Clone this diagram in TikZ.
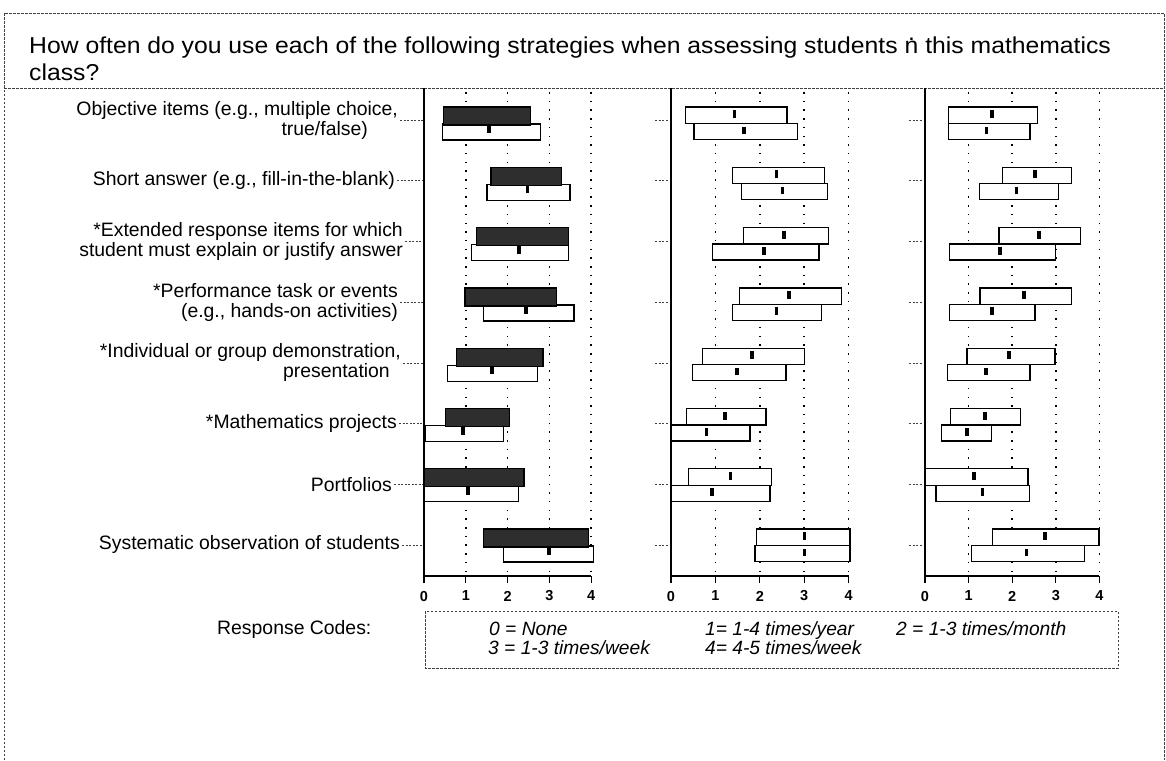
\documentclass[tikz,border=0pt]{standalone}
\usepackage{fontspec}
\setmainfont{Liberation Sans}
\usetikzlibrary{calc}
\tikzset{>=latex}
\newcommand{\idotn}{\ooalign{n\cr\hidewidth\raisebox{0.6em}{.}\hidewidth\cr}}

\begin{document}
\begin{tikzpicture}[x=1pt,y=-1pt,
	frame/.style={dash pattern=on 2.5pt off 1.5pt,line width=0.7pt,black!75},
	leader/.style={dash pattern=on 2pt off 1.5pt,line width=0.6pt,black!75},
	dotgrid/.style={line width=1.5pt,dash pattern=on 1.5pt off 7.2pt},
	axis/.style={line width=1.3pt},
	darkbox/.style={draw=black,line width=1.3pt,fill=black!82},
	openbox/.style={draw=black,line width=1.3pt,fill=white},
	item/.style={font=\fontsize{19.4}{20}\selectfont,align=right,anchor=east,inner sep=0pt},
	ticklab/.style={font=\fontsize{14.5}{15}\selectfont\bfseries,inner sep=0pt},
	code/.style={font=\fontsize{19.2}{19}\selectfont\itshape,anchor=base west,inner sep=0pt}]
			
			\useasboundingbox (0,0) rectangle (1166,760);
			
			\draw[frame] (4,760) -- (4,13) -- (1164,13) -- (1164,760);
			\draw[frame] (4,88) -- (1164,88);
			
			\node[anchor=base west,inner sep=0pt,xscale=1.075,font=\fontsize{23}{27}\selectfont] (title) at (29,54) {How often do you use each of the following strategies when assessing students \idotn{} this mathematics};
			\node[anchor=base west,inner sep=0pt,xscale=1.075,font=\fontsize{23}{27}\selectfont] (title2) at (29,80) {class?};
			
			\coordinate (ax1) at (424,88);
			\coordinate (ax2) at (671,88);
			\coordinate (ax3) at (925,88);
			
			% item labels
			\node[item] (obj) at (398,120) {Objective items (e.g., multiple choice,\\ true/false)\hspace*{30pt}};
			\node[item] (short) at (395,180.7) {Short answer (e.g., fill-in-the-blank)};
			\node[item] (ext) at (403,241.4) {*Extended response items for which\\ student must explain or justify answer};
			\node[item] (perf) at (398,302.1) {*Performance task or events\\ (e.g., hands-on activities)};
			\node[item] (indiv) at (401,362.8) {*Individual or group demonstration,\\ presentation\hspace*{11pt}};
			\node[item] (proj) at (397,423.5) {*Mathematics projects};
			\node[item] (port) at (392,484.2) {Portfolios};
			\node[item] (syst) at (400,544.9) {Systematic observation of students};
			
			\foreach \lab in {obj,short,ext,perf,indiv,proj,port,syst}
				\draw[leader] ([xshift=2pt]\lab.east) -- (\lab.east -| ax1);
			\foreach \ax in {ax2,ax3}
				\foreach \lab in {obj,short,ext,perf,indiv,proj,port,syst}
					\draw[leader] ([xshift=-16pt]\lab.east -| \ax) -- ([xshift=-3pt]\lab.east -| \ax);
			
			% axes and grid
			\foreach \xo/\s in {424/41.8, 671/44.4, 925/43.6}{
				\foreach \v in {1,...,4}
					\draw[dotgrid] ({\xo+\s*\v},92) -- ({\xo+\s*\v},572);
				\draw[axis] (\xo,88) -- (\xo,583);
				\draw[axis] (\xo,576) -- ({\xo+4*\s},576);
				\foreach \v in {0,...,4}{
					\draw[axis] ({\xo+\s*\v},576) -- ({\xo+\s*\v},583);
					\node[ticklab] (t\xo-\v) at ({\xo+\s*\v},596) {\v};
				}
			}
			
			% first group: shaded over open
			\foreach \row/\ulo/\uhi/\dlo/\dhi/\dmed in {
				1/0.46/2.54/0.44/2.78/1.55, 2/1.60/3.29/1.51/3.49/2.48,
				3/1.26/3.45/1.13/3.45/2.27, 4/0.98/3.17/1.42/3.59/2.44,
				5/0.77/2.85/0.57/2.72/1.62, 6/0.52/2.04/0.03/1.91/0.93,
				7/0.01/2.39/0.00/2.26/1.05, 8/1.42/3.93/1.90/4.05/2.99}{
				\pgfmathsetmacro{\rowtop}{107+60.3*(\row-1)}
				\draw[openbox] ({424+41.8*\dlo},{\rowtop+17}) rectangle ({424+41.8*\dhi},{\rowtop+33});
				\draw[darkbox] ({424+41.8*\ulo},\rowtop) rectangle ({424+41.8*\uhi},{\rowtop+18});
				\fill ({424+41.8*\dmed-1.8},{\rowtop+18}) rectangle ({424+41.8*\dmed+1.8},{\rowtop+26});
			}
			
			% second and third groups: two open boxes
			\foreach \xo/\s/\data in {
				671/44.4/{1/0.32/2.61/1.43/0.52/2.85/1.65, 2/1.39/3.45/2.38/1.58/3.53/2.51,
					3/1.63/3.54/2.55/0.93/3.33/2.10, 4/1.54/3.84/2.66/1.39/3.39/2.38,
					5/0.71/3.00/1.83/0.48/2.59/1.48, 6/0.35/2.14/1.22/0.00/1.78/0.80,
					7/0.39/2.27/1.34/0.00/2.23/0.92, 8/1.93/4.03/3.01/1.89/4.03/3.01},
				925/43.6/{1/0.54/2.58/1.54/0.54/2.41/1.41, 2/1.78/3.36/2.52/1.25/3.06/2.10,
					3/1.70/3.56/2.61/0.56/3.00/1.72, 4/1.26/3.36/2.27/0.56/2.52/1.53,
					5/0.96/2.98/1.93/0.51/2.41/1.40, 6/0.59/2.19/1.38/0.38/1.53/0.96,
					7/0.00/2.36/1.12/0.25/2.39/1.32, 8/1.55/3.99/2.75/1.06/3.65/2.33}}{
				\foreach \row/\ulo/\uhi/\umed/\dlo/\dhi/\dmed in \data {
					\pgfmathsetmacro{\rowtop}{107+60.3*(\row-1)}
					\draw[openbox] ({\xo+\s*\dlo},{\rowtop+16.5}) rectangle ({\xo+\s*\dhi},{\rowtop+32.5});
					\draw[openbox] ({\xo+\s*\ulo},\rowtop) rectangle ({\xo+\s*\uhi},{\rowtop+16.5});
					\fill ({\xo+\s*\umed-1.8},{\rowtop+3}) rectangle ({\xo+\s*\umed+1.8},{\rowtop+11});
					\fill ({\xo+\s*\dmed-1.8},{\rowtop+19.5}) rectangle ({\xo+\s*\dmed+1.8},{\rowtop+27});
				}
			}
			
			% response codes
			\node[anchor=base west,inner sep=0pt,font=\fontsize{19.4}{20}\selectfont] (rc) at (217,634) {Response Codes:};
			\draw[frame] (425,611) rectangle (1118,668);
			\node[code] (c0) at (489,635) {0 = None};
			\node[code] (c3) at (488,654) {3 = 1-3 times/week};
			\node[code] (c1) at (705,635) {1= 1-4 times/year};
			\node[code] (c4) at (705,654) {4= 4-5 times/week};
			\node[code] (c2) at (896,635) {2 = 1-3 times/month};
			
		\end{tikzpicture}
\end{document}
